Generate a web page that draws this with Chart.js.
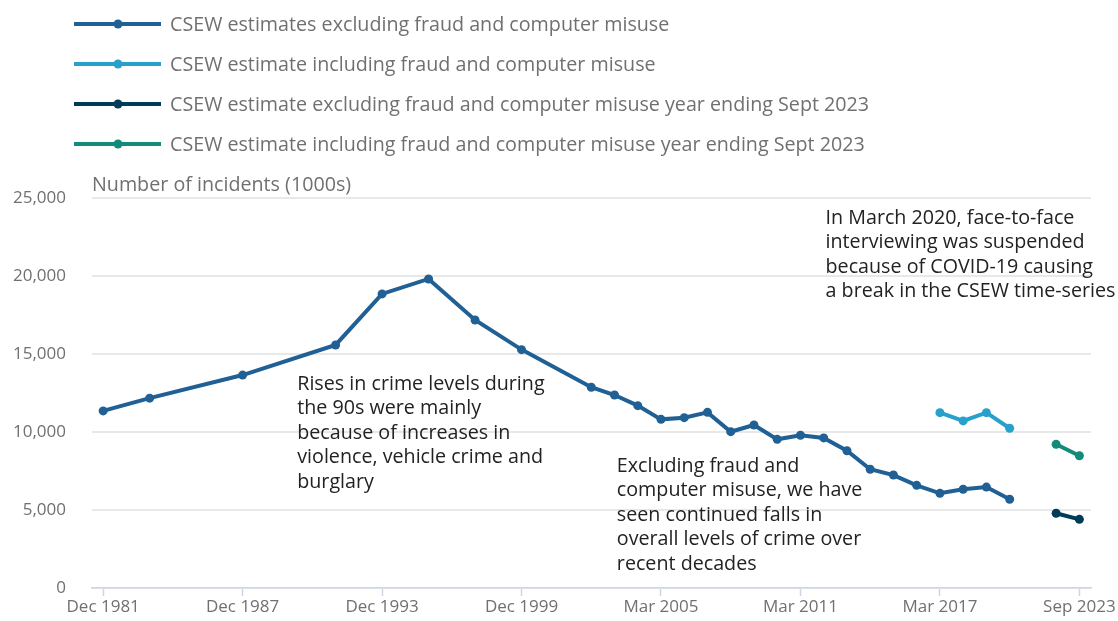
<!DOCTYPE html>
<html>
<head>
<meta charset="utf-8">
<script src="https://cdn.jsdelivr.net/npm/chart.js@4.4.1/dist/chart.umd.min.js"></script>
<style>
  html, body { margin: 0; padding: 0; background: #fff; }
  #wrap { position: relative; width: 1118px; height: 621px; }
</style>
</head>
<body>
<div id="wrap"><canvas id="crime-chart"></canvas></div>
<script>
// x slots (one per survey year, evenly spaced)
var categories = [
  'Dec 1981', 'Dec 1982', 'Dec 1983', 'Dec 1984', 'Dec 1985', 'Dec 1986', 'Dec 1987',
  'Dec 1988', 'Dec 1989', 'Dec 1990', 'Dec 1991', 'Dec 1992', 'Dec 1993', 'Dec 1994',
  'Dec 1995', 'Dec 1996', 'Dec 1997', 'Dec 1998', 'Dec 1999', 'Dec 2000', 'Mar 2001',
  'Mar 2002', 'Mar 2003', 'Mar 2004', 'Mar 2005', 'Mar 2006', 'Mar 2007', 'Mar 2008',
  'Mar 2009', 'Mar 2010', 'Mar 2011', 'Mar 2012', 'Mar 2013', 'Mar 2014', 'Mar 2015',
  'Mar 2016', 'Mar 2017', 'Mar 2018', 'Mar 2019', 'Mar 2020', 'Mar 2021', 'Sep 2022',
  'Sep 2023'
];
var tickSlots = [0, 6, 12, 18, 24, 30, 36, 42];
var yTicks = [0, 5000, 10000, 15000, 20000, 25000];

// Number of incidents (1000s), null = no survey
var exclFraud = [
  11350, null, 12170, null, null, null, 13650, null, null, null, 15580, null, 18850, null,
  19810, null, 17180, null, 15280, null, null,
  12870, 12370, 11690, 10810, 10920, 11260, 10020, 10450, 9530, 9790, 9620, 8800, 7610,
  7240, 6580, 6070, 6330, 6470, 5690, null, null, null
];
var inclFraud = [
  null, null, null, null, null, null, null, null, null, null, null, null, null, null,
  null, null, null, null, null, null, null, null, null, null, null, null, null, null,
  null, null, null, null, null, null, null, null, 11240, 10710, 11240, 10240, null, null, null
];
var exclFraud2023 = [
  null, null, null, null, null, null, null, null, null, null, null, null, null, null,
  null, null, null, null, null, null, null, null, null, null, null, null, null, null,
  null, null, null, null, null, null, null, null, null, null, null, null, null, 4790, 4400
];
var inclFraud2023 = [
  null, null, null, null, null, null, null, null, null, null, null, null, null, null,
  null, null, null, null, null, null, null, null, null, null, null, null, null, null,
  null, null, null, null, null, null, null, null, null, null, null, null, null, 9210, 8480
];

var seriesLabels = [
  'CSEW estimates excluding fraud and computer misuse',
  'CSEW estimate including fraud and computer misuse',
  'CSEW estimate excluding fraud and computer misuse year ending Sept 2023',
  'CSEW estimate including fraud and computer misuse year ending Sept 2023'
];
var seriesColors = ['#206095', '#27a0cc', '#003c57', '#118c7b'];
var seriesValues = [exclFraud, inclFraud, exclFraud2023, inclFraud2023];

var yTitle = 'Number of incidents (1000s)';
var notes = [
  { slot: 8.35, value: 13080, lines: ['Rises in crime levels during', 'the 90s were mainly',
    'because of increases in', 'violence, vehicle crime and', 'burglary'] },
  { slot: 22.1, value: 7820, lines: ['Excluding fraud and', 'computer misuse, we have',
    'seen continued falls in', 'overall levels of crime over', 'recent decades'] },
  { slot: 31.08, value: 23720, lines: ['In March 2020, face-to-face', 'interviewing was suspended',
    'because of COVID-19 causing', 'a break in the CSEW time-series'] }
];

function toPoints(values) {
  var pts = [];
  values.forEach(function (v, i) {
    if (v !== null) pts.push({ x: i, y: v });
  });
  return pts;
}

var FONT = "'Open Sans', sans-serif";
var AXIS_TEXT = '#707070';
var NOTE_TEXT = '#222222';
Chart.defaults.font.family = FONT;
Chart.defaults.font.size = 17;
Chart.defaults.color = AXIS_TEXT;

// legend, axis title and notes drawn straight on the canvas
var extrasPlugin = {
  id: 'extras',
  afterDraw: function (chart) {
    var c = chart.ctx;
    var xs = chart.scales.x, ys = chart.scales.y;
    c.save();
    c.font = '19.7px ' + FONT;
    c.textBaseline = 'middle';
    c.textAlign = 'left';

    // legend
    seriesLabels.forEach(function (label, i) {
      var y = 24 + i * 40;
      c.strokeStyle = seriesColors[i];
      c.lineWidth = 4;
      c.beginPath();
      c.moveTo(74, y);
      c.lineTo(161, y);
      c.stroke();
      c.fillStyle = seriesColors[i];
      c.beginPath();
      c.arc(118, y, 4.5, 0, Math.PI * 2);
      c.fill();
      c.fillStyle = AXIS_TEXT;
      c.fillText(label, 170, y + 1);
    });

    // y title
    c.fillStyle = AXIS_TEXT;
    c.fillText(yTitle, chart.chartArea.left, chart.chartArea.top - 13);

    // notes
    c.fillStyle = NOTE_TEXT;
    notes.forEach(function (n) {
      var x = xs.getPixelForValue(n.slot);
      var y = ys.getPixelForValue(n.value);
      n.lines.forEach(function (line, j) {
        c.fillText(line, x, y + j * 24.6);
      });
    });
    c.restore();
  }
};

var ctx = document.getElementById('crime-chart').getContext('2d');
var crimeChart = new Chart(ctx, {
  type: 'line',
  data: {
    datasets: seriesValues.map(function (vals, i) {
      return {
        label: seriesLabels[i],
        data: toPoints(vals),
        borderColor: seriesColors[i],
        backgroundColor: seriesColors[i],
        borderWidth: 4,
        pointRadius: 4.5,
        pointBorderWidth: 0,
        pointHoverRadius: 4.5,
        tension: 0,
        fill: false
      };
    })
  },
  options: {
    responsive: true,
    maintainAspectRatio: false,
    animation: false,
    events: [],
    layout: { padding: { left: 12, right: 27, top: 198, bottom: 0 } },
    plugins: {
      legend: { display: false },
      tooltip: { enabled: false }
    },
    scales: {
      x: {
        type: 'linear',
        min: -0.48,
        max: 42.5,
        afterBuildTicks: function (scale) {
          scale.ticks = tickSlots.map(function (v) { return { value: v }; });
        },
        afterFit: function (scale) {
          scale.paddingLeft = 0;
          scale.paddingRight = 0;
          scale.paddingTop = 0;
          scale.paddingBottom = 0;
          scale.height = 33;
        },
        ticks: {
          padding: 1,
          maxRotation: 0,
          autoSkip: false,
          color: AXIS_TEXT,
          callback: function (v) { return categories[v]; }
        },
        grid: {
          drawOnChartArea: false,
          drawTicks: true,
          tickLength: 8,
          tickWidth: 1.5,
          color: '#ccd6eb'
        },
        border: { display: true, color: '#ccd6eb', width: 1.5 }
      },
      y: {
        min: 0,
        max: 25000,
        afterBuildTicks: function (scale) {
          scale.ticks = yTicks.map(function (v) { return { value: v }; });
        },
        afterFit: function (scale) {
          scale.width = 80;
          scale.paddingTop = 0;
          scale.paddingBottom = 0;
        },
        ticks: {
          padding: 26,
          color: AXIS_TEXT
        },
        grid: {
          drawTicks: false,
          color: '#e8e8e8',
          lineWidth: 2
        },
        border: { display: false }
      }
    }
  },
  plugins: [extrasPlugin]
});
</script>
</body>
</html>
